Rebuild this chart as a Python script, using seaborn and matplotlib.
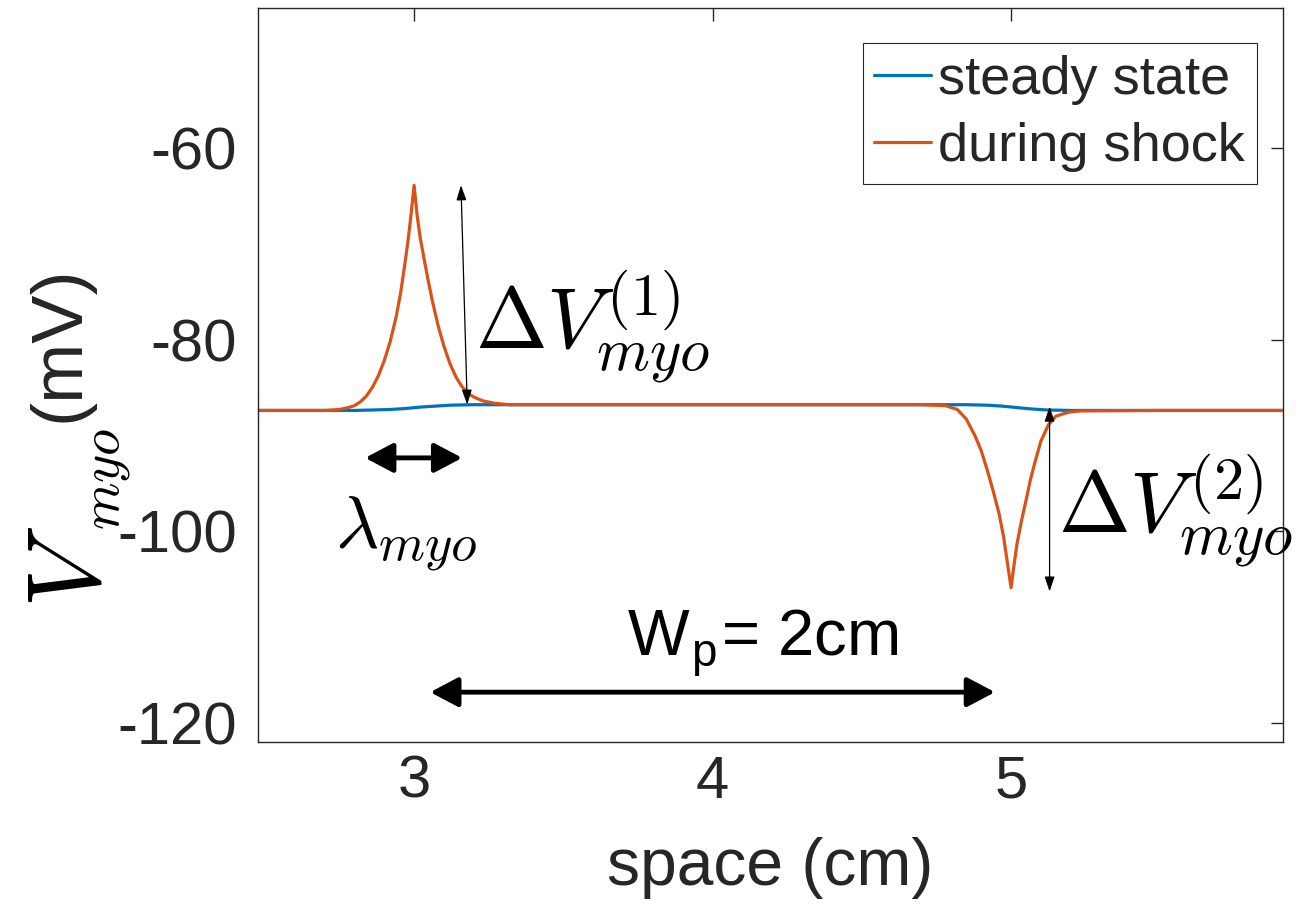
import numpy as np
import pandas as pd
import matplotlib
matplotlib.use("Agg")
import matplotlib.pyplot as plt
import seaborn as sns
from matplotlib.lines import Line2D

# ---------------- data ----------------
steady_x = [2.48, 2.80, 2.86, 2.92, 2.97, 3.02, 3.07, 3.12, 3.20, 3.40, 4.00, 4.60,
            4.85, 4.92, 4.97, 5.02, 5.07, 5.12, 5.20, 5.40, 5.91]
steady_y = [-87.4, -87.4, -87.35, -87.3, -87.2, -87.05, -86.95, -86.85, -86.8, -86.8, -86.8, -86.8,
            -86.8, -86.85, -86.95, -87.1, -87.25, -87.35, -87.4, -87.4, -87.4]

shock_x = [2.48, 2.70, 2.75, 2.78, 2.80, 2.82, 2.84, 2.86, 2.88, 2.90, 2.92, 2.94,
           2.955, 2.97, 2.98, 2.99, 3.00, 3.01, 3.02, 3.03, 3.045, 3.06, 3.08, 3.10,
           3.12, 3.14, 3.16, 3.18, 3.20, 3.23, 3.27, 3.32, 3.60, 4.00, 4.40, 4.70,
           4.78, 4.82, 4.85, 4.88, 4.90, 4.92, 4.94, 4.96, 4.975, 4.99, 5.00, 5.01,
           5.02, 5.035, 5.05, 5.065, 5.08, 5.10, 5.125, 5.15, 5.19, 5.23, 5.50, 5.91]
shock_y = [-87.4, -87.4, -87.3, -87.1, -86.9, -86.5, -85.9, -85.0, -83.8, -82.2, -80.2, -77.6,
           -75.1, -71.9, -69.6, -66.9, -63.9, -67.0, -69.3, -71.0, -73.5, -75.8, -78.5, -80.7,
           -82.5, -83.9, -84.9, -85.6, -86.0, -86.4, -86.65, -86.8, -86.8, -86.8, -86.8, -86.8,
           -86.9, -87.3, -88.3, -90.1, -91.6, -93.6, -95.8, -98.2, -100.6, -103.8, -105.9, -103.5,
           -101.3, -98.9, -96.8, -94.6, -92.8, -90.6, -88.9, -88.0, -87.6, -87.45, -87.4, -87.4]

series_names = ["steady state", "during shock"]
x_ticks = [3, 4, 5]
y_ticks = [-120, -100, -80, -60]

# ---------------- styling ----------------
sns.set_style("white")
plt.rcParams["font.family"] = ["Liberation Sans", "DejaVu Sans"]
plt.rcParams["mathtext.fontset"] = "cm"

DARK = "#262626"
BLUE = "#0072BD"
ORANGE = "#D95319"

df = pd.concat([
    pd.DataFrame({"x": steady_x, "y": steady_y, "series": series_names[0]}),
    pd.DataFrame({"x": shock_x, "y": shock_y, "series": series_names[1]}),
], ignore_index=True)

fig = plt.figure(figsize=(12.99, 9.11), dpi=100)
W, H = 1299, 911
ax = fig.add_axes([258 / W, (H - 742) / H, (1283 - 258) / W, (742 - 8) / H])

sns.lineplot(data=df, x="x", y="y", hue="series", hue_order=series_names,
             palette=[BLUE, ORANGE], estimator=None, sort=False, lw=2.3, ax=ax,
             legend=False)

ax.set_xlim(2.477, 5.911)
ax.set_ylim(-122.0, -45.4)
ax.set_xticks(x_ticks)
ax.set_yticks(y_ticks)
ax.set_xticklabels([str(v) for v in x_ticks])
ax.set_yticklabels([str(v) for v in y_ticks])
ax.tick_params(direction="in", length=9, width=1.0, color=DARK, labelcolor=DARK,
               labelsize=43, top=True, right=True)
ax.tick_params(axis="x", pad=9)
ax.tick_params(axis="y", pad=15)
for s in ax.spines.values():
    s.set_visible(True)
    s.set_color(DARK)
    s.set_linewidth(1.0)

ax.set_xlabel("space (cm)", fontsize=47.5, color=DARK, labelpad=20)
ax.set_ylabel("")

# y label: big italic V with a smaller subscript, then the unit
fig.text(24 / W, (H - 608) / H, r"$V$", fontsize=75, rotation=90,
         ha="left", va="bottom", color="k", math_fontfamily="cm")
fig.text(82 / W, (H - 530) / H, r"$myo$", fontsize=39, rotation=90,
         ha="left", va="bottom", color="k", math_fontfamily="cm")
fig.text(60 / W, (H - 344) / H, "(mV)", fontsize=52, rotation=90,
         ha="center", va="center", color=DARK)

# legend
handles = [Line2D([], [], color=BLUE, lw=2.3), Line2D([], [], color=ORANGE, lw=2.3)]
leg = ax.legend(handles, series_names, loc="upper right",
                bbox_to_anchor=((1257 - 258) / 1025, (742 - 43) / 734),
                borderaxespad=0, fontsize=39, frameon=True, fancybox=False,
                framealpha=1, edgecolor=DARK, handlelength=1.05,
                handletextpad=0.13, borderpad=0.22, labelspacing=0.31)
leg.get_frame().set_linewidth(0.8)

# thin double arrows
thin = dict(arrowstyle="<|-|>,head_length=0.9,head_width=0.3", lw=0.9, color="k",
            shrinkA=0, shrinkB=0, mutation_scale=10)
ax.annotate("", xy=(3.157, -63.9), xytext=(3.178, -86.8), arrowprops=thin)
ax.annotate("", xy=(5.129, -87.0), xytext=(5.129, -106.3), arrowprops=thin)

# thick double arrows
thick = dict(arrowstyle="<|-|>,head_length=0.85,head_width=0.45", lw=3.5, color="k",
             shrinkA=0, shrinkB=0, mutation_scale=20)
ax.annotate("", xy=(2.836, -92.35), xytext=(3.161, -92.35), arrowprops=thick)
ax.annotate("", xy=(3.054, -116.8), xytext=(4.946, -116.8), arrowprops=thick)

# math annotations
ax.text(3.204, -80.9, r"$\Delta V_{myo}^{(1)}$", fontsize=62, ha="left",
        va="baseline", math_fontfamily="cm", color="k")
ax.text(5.157, -100.1, r"$\Delta V_{myo}^{(2)}$", fontsize=62, ha="left",
        va="baseline", math_fontfamily="cm", color="k", clip_on=False)
ax.text(2.735, -101.7, r"$\lambda_{myo}$", fontsize=54, ha="left",
        va="baseline", math_fontfamily="cm", color="k")
ax.text(3.714, -113.1, r"W$_\mathregular{p}$= 2cm", fontsize=47, ha="left",
        va="baseline", color="k")

fig.savefig("out.png", dpi=100)
